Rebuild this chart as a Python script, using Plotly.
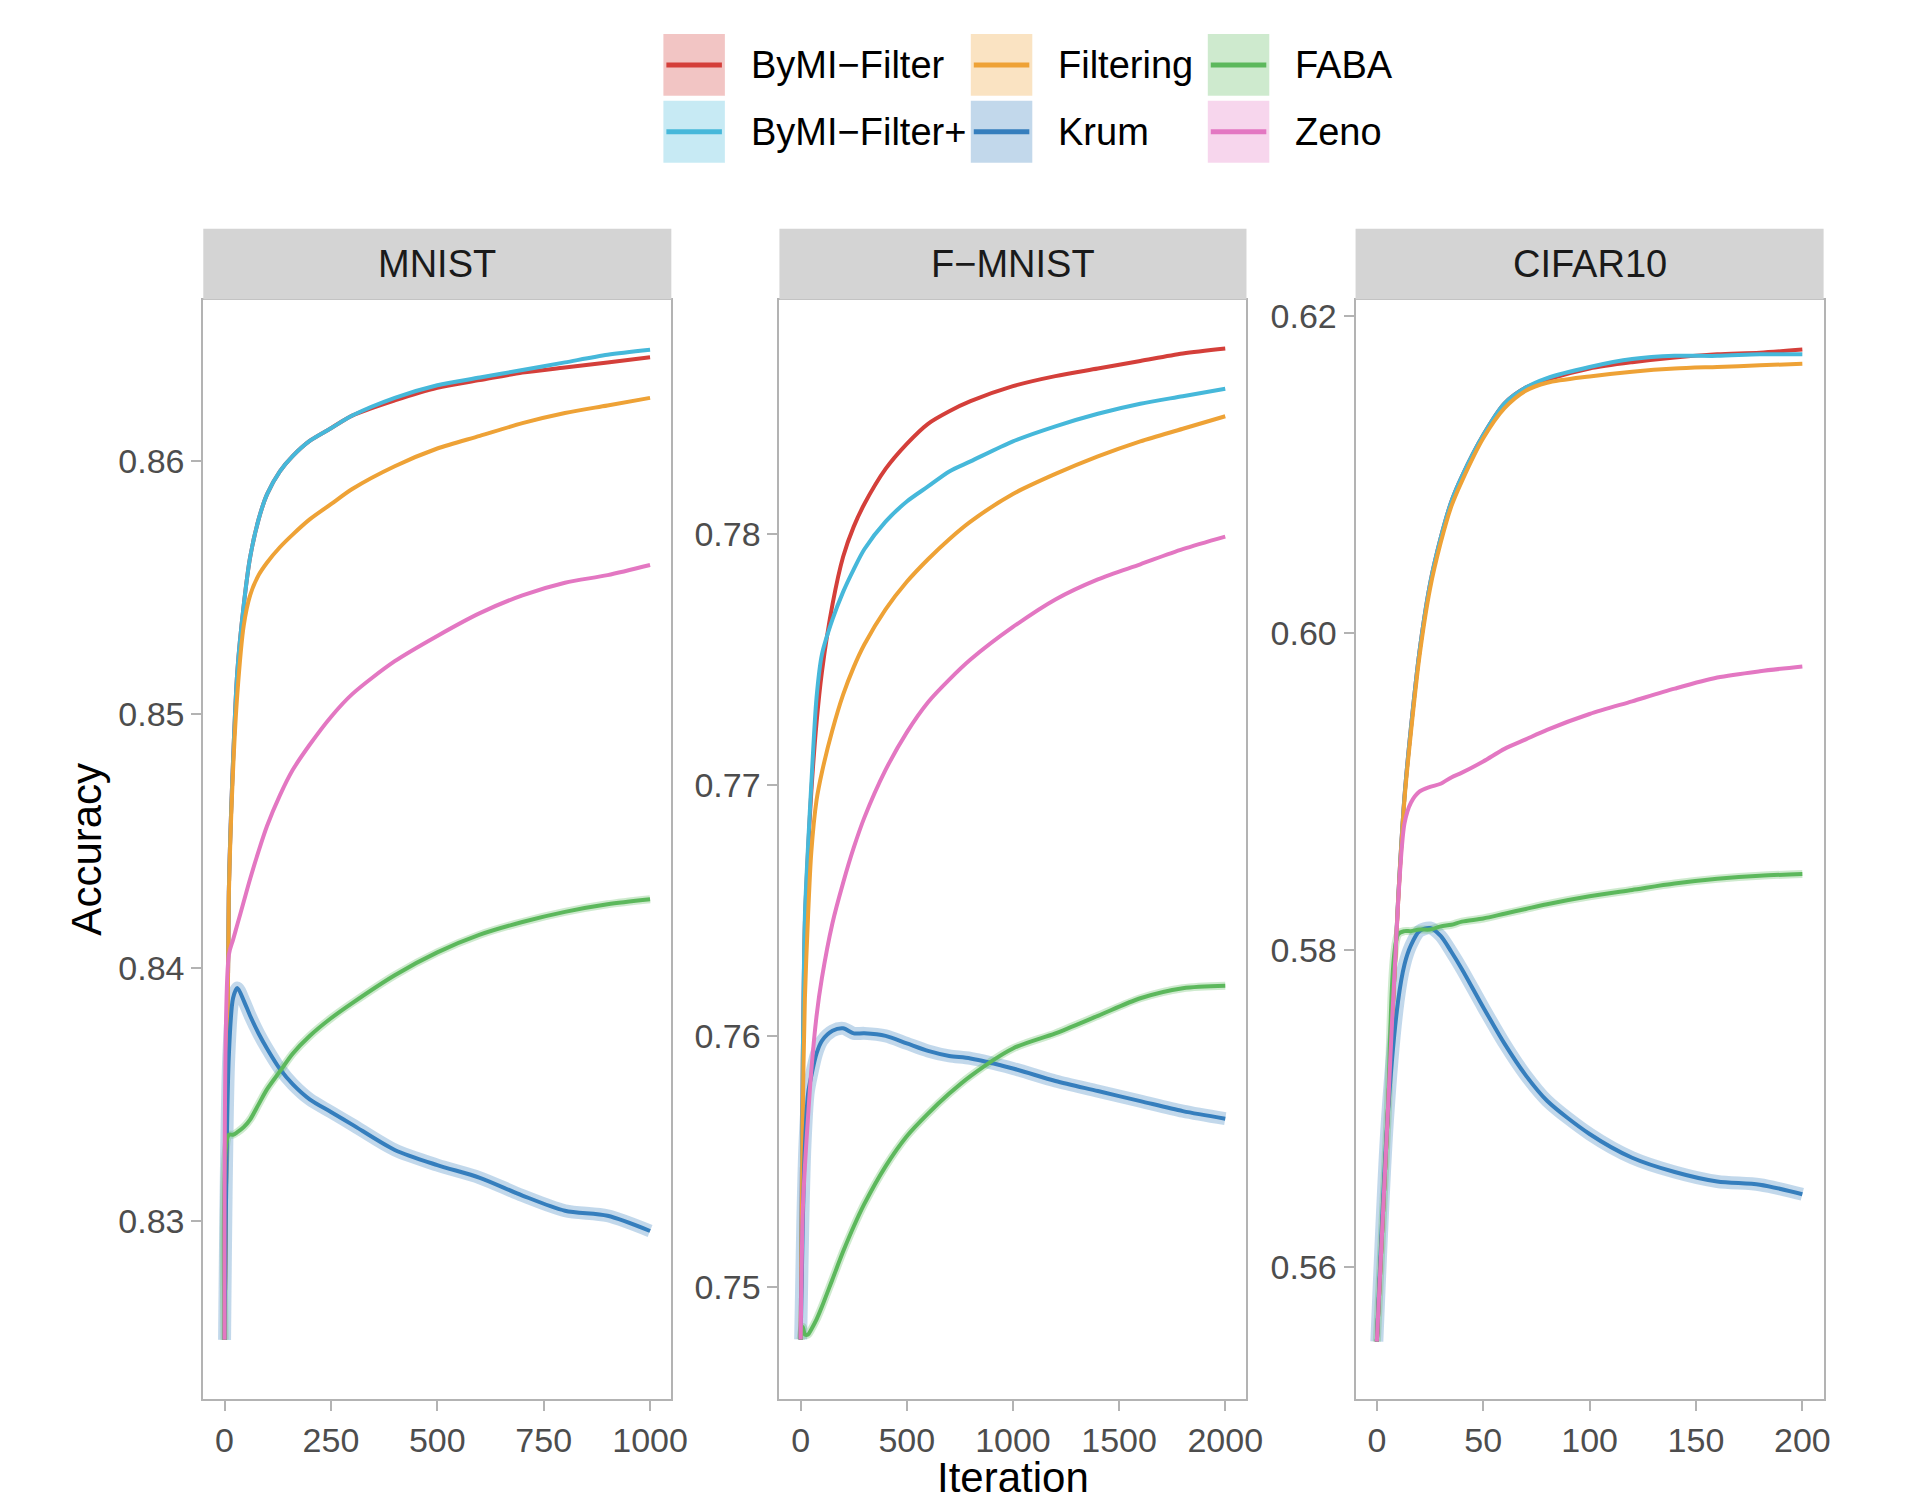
import plotly.graph_objects as go

# ---------------- data ----------------
METHODS = ["ByMI-Filter", "ByMI-Filter+", "Filtering", "Krum", "FABA", "Zeno"]
LEGEND_LABELS = ["ByMI\u2212Filter", "ByMI\u2212Filter+", "Filtering", "Krum", "FABA", "Zeno"]
PANEL_TITLES = ["MNIST", "F\u2212MNIST", "CIFAR10"]

MNIST_ITER = [0, 10, 20, 30, 45, 60, 80, 100, 130, 160, 200, 250, 300, 400, 500, 600, 700, 800, 900, 1000]
MNIST_BYMI = [0.8253, 0.8430, 0.8482, 0.8517, 0.8543, 0.8562, 0.8577, 0.8587, 0.8596, 0.8602, 0.8608, 0.8613, 0.8618, 0.8624, 0.8629, 0.8632, 0.8635, 0.8637, 0.8639, 0.8641]
MNIST_BYMI_PLUS = [0.8253, 0.8430, 0.8482, 0.8517, 0.8543, 0.8562, 0.8577, 0.8587, 0.8596, 0.8602, 0.8608, 0.8613, 0.8618, 0.8625, 0.8630, 0.8633, 0.8636, 0.8639, 0.8642, 0.8644]
MNIST_FILTERING = [0.8253, 0.8428, 0.8478, 0.8508, 0.8535, 0.8547, 0.8555, 0.8560, 0.8566, 0.8571, 0.8577, 0.8583, 0.8589, 0.8598, 0.8605, 0.8610, 0.8615, 0.8619, 0.8622, 0.8625]
MNIST_KRUM = [0.8253, 0.8365, 0.8388, 0.8392, 0.8387, 0.8381, 0.8374, 0.8368, 0.8360, 0.8354, 0.8348, 0.8343, 0.8338, 0.8328, 0.8322, 0.8317, 0.8310, 0.8304, 0.8302, 0.8296]
MNIST_FABA = [0.8253, 0.8334, 0.8334, 0.8335, 0.8337, 0.8340, 0.8346, 0.8352, 0.8359, 0.8366, 0.8373, 0.8380, 0.8386, 0.8397, 0.8406, 0.8413, 0.8418, 0.8422, 0.8425, 0.8427]
MNIST_ZENO = [0.8253, 0.8405, 0.8411, 0.8417, 0.8426, 0.8435, 0.8446, 0.8456, 0.8468, 0.8478, 0.8488, 0.8499, 0.8508, 0.8521, 0.8531, 0.8540, 0.8547, 0.8552, 0.8555, 0.8559]

FMNIST_ITER = [0, 10, 20, 35, 50, 75, 100, 150, 200, 250, 300, 400, 500, 600, 700, 800, 1000, 1200, 1400, 1600, 1800, 2000]
FMNIST_BYMI = [0.7479, 0.7590, 0.7645, 0.7674, 0.7697, 0.7725, 0.7745, 0.7772, 0.7791, 0.7803, 0.7812, 0.7826, 0.7836, 0.7844, 0.7849, 0.7853, 0.7859, 0.7863, 0.7866, 0.7869, 0.7872, 0.7874]
FMNIST_BYMI_PLUS = [0.7479, 0.7590, 0.7648, 0.7676, 0.7700, 0.7735, 0.7752, 0.7766, 0.7777, 0.7786, 0.7794, 0.7805, 0.7813, 0.7819, 0.7825, 0.7829, 0.7837, 0.7843, 0.7848, 0.7852, 0.7855, 0.7858]
FMNIST_FILTERING = [0.7479, 0.7570, 0.7615, 0.7648, 0.7673, 0.7694, 0.7705, 0.7722, 0.7736, 0.7747, 0.7756, 0.7770, 0.7781, 0.7790, 0.7798, 0.7805, 0.7816, 0.7824, 0.7831, 0.7837, 0.7842, 0.7847]
FMNIST_KRUM = [0.7479, 0.7525, 0.7556, 0.7577, 0.7584, 0.7593, 0.7598, 0.7602, 0.7603, 0.7601, 0.7601, 0.7600, 0.7597, 0.7594, 0.7592, 0.7591, 0.7587, 0.7582, 0.7578, 0.7574, 0.7570, 0.7567]
FMNIST_FABA = [0.7479, 0.7484, 0.7481, 0.7481, 0.7483, 0.7487, 0.7492, 0.7503, 0.7514, 0.7524, 0.7533, 0.7548, 0.7560, 0.7569, 0.7577, 0.7584, 0.7595, 0.7601, 0.7608, 0.7615, 0.7619, 0.7620]
FMNIST_ZENO = [0.7479, 0.7530, 0.7548, 0.7568, 0.7586, 0.7608, 0.7623, 0.7645, 0.7661, 0.7675, 0.7687, 0.7706, 0.7721, 0.7733, 0.7742, 0.7750, 0.7763, 0.7774, 0.7782, 0.7788, 0.7794, 0.7799]

CIFAR_ITER = [0, 5, 10, 13, 16, 20, 25, 30, 35, 40, 50, 60, 70, 80, 100, 120, 140, 160, 180, 200]
CIFAR_BYMI = [0.5553, 0.5693, 0.5832, 0.5897, 0.5940, 0.5988, 0.6031, 0.6060, 0.6083, 0.6099, 0.6125, 0.6145, 0.6155, 0.6160, 0.6167, 0.6171, 0.6174, 0.6176, 0.6177, 0.6179]
CIFAR_BYMI_PLUS = [0.5553, 0.5693, 0.5832, 0.5897, 0.5940, 0.5988, 0.6031, 0.6060, 0.6083, 0.6099, 0.6125, 0.6145, 0.6155, 0.6161, 0.6168, 0.6173, 0.6175, 0.6175, 0.6176, 0.6176]
CIFAR_FILTERING = [0.5553, 0.5693, 0.5830, 0.5895, 0.5937, 0.5985, 0.6028, 0.6057, 0.6080, 0.6096, 0.6123, 0.6142, 0.6153, 0.6158, 0.6162, 0.6165, 0.6167, 0.6168, 0.6169, 0.6170]
CIFAR_KRUM = [0.5553, 0.5693, 0.5768, 0.5791, 0.5803, 0.5812, 0.5814, 0.5809, 0.5799, 0.5788, 0.5764, 0.5741, 0.5721, 0.5705, 0.5684, 0.5669, 0.5660, 0.5654, 0.5652, 0.5646]
CIFAR_FABA = [0.5553, 0.5693, 0.5810, 0.5812, 0.5812, 0.5813, 0.5813, 0.5815, 0.5816, 0.5818, 0.5820, 0.5823, 0.5826, 0.5829, 0.5834, 0.5838, 0.5842, 0.5845, 0.5847, 0.5848]
CIFAR_ZENO = [0.5553, 0.5693, 0.5830, 0.5880, 0.5893, 0.5900, 0.5903, 0.5905, 0.5909, 0.5912, 0.5919, 0.5927, 0.5933, 0.5939, 0.5949, 0.5957, 0.5965, 0.5972, 0.5976, 0.5979]

MNIST_XTICKS = [0, 250, 500, 750, 1000]
FMNIST_XTICKS = [0, 500, 1000, 1500, 2000]
CIFAR_XTICKS = [0, 50, 100, 150, 200]
MNIST_YTICKS = [0.83, 0.84, 0.85, 0.86]
FMNIST_YTICKS = [0.75, 0.76, 0.77, 0.78]
CIFAR_YTICKS = [0.56, 0.58, 0.60, 0.62]

# ---------------- styling ----------------
COLORS = {
    "ByMI-Filter": (212, 63, 58),
    "ByMI-Filter+": (70, 184, 218),
    "Filtering": (238, 162, 54),
    "Krum": (53, 126, 189),
    "FABA": (92, 184, 92),
    "Zeno": (227, 119, 194),
}
BAND_WIDTH = {"Krum": 13, "FABA": 8}
FONT = "Liberation Sans, Arial, Helvetica, sans-serif"
W, H = 1912, 1492


def rgb(c, a=None):
    if a is None:
        return "rgb(%d,%d,%d)" % c
    return "rgba(%d,%d,%d,%.2f)" % (c[0], c[1], c[2], a)


def fx(px):
    return px / W


def fy(py):
    return 1 - py / H


panels = [
    dict(x=MNIST_ITER, series=[MNIST_BYMI, MNIST_BYMI_PLUS, MNIST_FILTERING, MNIST_KRUM, MNIST_FABA, MNIST_ZENO],
         xt=MNIST_XTICKS, yt=MNIST_YTICKS, xr=[-50, 1050], yr=[0.82296, 0.86638], dom=(205, 677)),
    dict(x=FMNIST_ITER, series=[FMNIST_BYMI, FMNIST_BYMI_PLUS, FMNIST_FILTERING, FMNIST_KRUM, FMNIST_FABA, FMNIST_ZENO],
         xt=FMNIST_XTICKS, yt=FMNIST_YTICKS, xr=[-100, 2100], yr=[0.74552, 0.78935], dom=(786, 1257)),
    dict(x=CIFAR_ITER, series=[CIFAR_BYMI, CIFAR_BYMI_PLUS, CIFAR_FILTERING, CIFAR_KRUM, CIFAR_FABA, CIFAR_ZENO],
         xt=CIFAR_XTICKS, yt=CIFAR_YTICKS, xr=[-10, 210], yr=[0.55167, 0.62105], dom=(1367, 1839)),
]

PLOT_TOP, PLOT_BOTTOM, STRIP_TOP = 298, 1399, 227

fig = go.Figure()
layout = dict(
    width=W, height=H, autosize=False, margin=dict(l=0, r=0, t=0, b=0),
    paper_bgcolor="white", plot_bgcolor="white", showlegend=False,
    font=dict(family=FONT, color="#000000"),
    shapes=[], annotations=[],
)

for i, p in enumerate(panels):
    sfx = "" if i == 0 else str(i + 1)
    xa, ya = "x" + sfx, "y" + sfx
    # translucent bands under the lines
    for m, ys in zip(METHODS, p["series"]):
        if m in BAND_WIDTH:
            fig.add_trace(go.Scatter(x=p["x"], y=ys, mode="lines", xaxis=xa, yaxis=ya,
                                     line=dict(color=rgb(COLORS[m], 0.3), width=BAND_WIDTH[m],
                                               shape="spline", smoothing=0.8),
                                     hoverinfo="skip", showlegend=False))
    for m, ys in zip(METHODS, p["series"]):
        fig.add_trace(go.Scatter(x=p["x"], y=ys, mode="lines", name=m, xaxis=xa, yaxis=ya,
                                 line=dict(color=rgb(COLORS[m]), width=4, shape="spline", smoothing=0.8),
                                 showlegend=False))
    axis_common = dict(showgrid=False, zeroline=False, showline=True, mirror=True,
                       linecolor="#B3B3B3", linewidth=2, ticks="outside", ticklen=10,
                       tickwidth=1.5, tickcolor="#B3B3B3",
                       tickfont=dict(family=FONT, size=34, color="#4D4D4D"))
    layout["xaxis" + sfx] = dict(axis_common, domain=[fx(p["dom"][0]), fx(p["dom"][1])],
                                 range=p["xr"], tickvals=p["xt"], anchor=ya)
    layout["yaxis" + sfx] = dict(axis_common, domain=[fy(PLOT_BOTTOM), fy(PLOT_TOP)],
                                 range=p["yr"], tickvals=p["yt"], tickformat=".2f", anchor=xa)
    # facet strip
    layout["shapes"].append(dict(type="rect", xref="paper", yref="paper",
                                 x0=fx(p["dom"][0]), x1=fx(p["dom"][1]),
                                 y0=fy(PLOT_TOP), y1=fy(STRIP_TOP),
                                 fillcolor="#D4D4D4", line=dict(width=0)))
    layout["annotations"].append(dict(text=PANEL_TITLES[i], xref="paper", yref="paper",
                                      x=fx((p["dom"][0] + p["dom"][1]) / 2),
                                      y=fy((PLOT_TOP + STRIP_TOP) / 2),
                                      showarrow=False, xanchor="center", yanchor="middle",
                                      font=dict(family=FONT, size=38, color="#1A1A1A")))

# axis titles
layout["annotations"].append(dict(text="Accuracy", xref="paper", yref="paper", x=fx(87),
                                  y=fy((PLOT_TOP + PLOT_BOTTOM) / 2), textangle=-90, showarrow=False,
                                  xanchor="center", yanchor="middle",
                                  font=dict(family=FONT, size=42, color="#000000")))
layout["annotations"].append(dict(text="Iteration", xref="paper", yref="paper", x=fx(1021.5),
                                  y=fy(1477), showarrow=False, xanchor="center", yanchor="middle",
                                  font=dict(family=FONT, size=42, color="#000000")))

# legend (3 columns x 2 rows, filled keys with a line)
KEY_LEFTS = [669, 979, 1218]
KEY_TOPS = [32, 99]
KEY_SIZE = 62
for j, (m, lab) in enumerate(zip(METHODS, LEGEND_LABELS)):
    col, row = j // 2, j % 2
    x0, y0 = KEY_LEFTS[col], KEY_TOPS[row]
    layout["shapes"].append(dict(type="rect", xref="paper", yref="paper",
                                 x0=fx(x0), x1=fx(x0 + KEY_SIZE), y0=fy(y0 + KEY_SIZE), y1=fy(y0),
                                 fillcolor=rgb(COLORS[m], 0.3), line=dict(width=0)))
    layout["shapes"].append(dict(type="line", xref="paper", yref="paper",
                                 x0=fx(x0 + 3), x1=fx(x0 + KEY_SIZE - 3),
                                 y0=fy(y0 + KEY_SIZE / 2), y1=fy(y0 + KEY_SIZE / 2),
                                 line=dict(color=rgb(COLORS[m]), width=5)))
    layout["annotations"].append(dict(text=lab, xref="paper", yref="paper",
                                      x=fx(x0 + 86), y=fy(y0 + KEY_SIZE / 2),
                                      showarrow=False, xanchor="left", yanchor="middle",
                                      font=dict(family=FONT, size=38, color="#000000")))

fig.update_layout(**layout)
fig.write_html("out.html", config={"displayModeBar": False, "responsive": False},
               post_script="document.body.style.margin='0';document.body.style.overflow='hidden';")
